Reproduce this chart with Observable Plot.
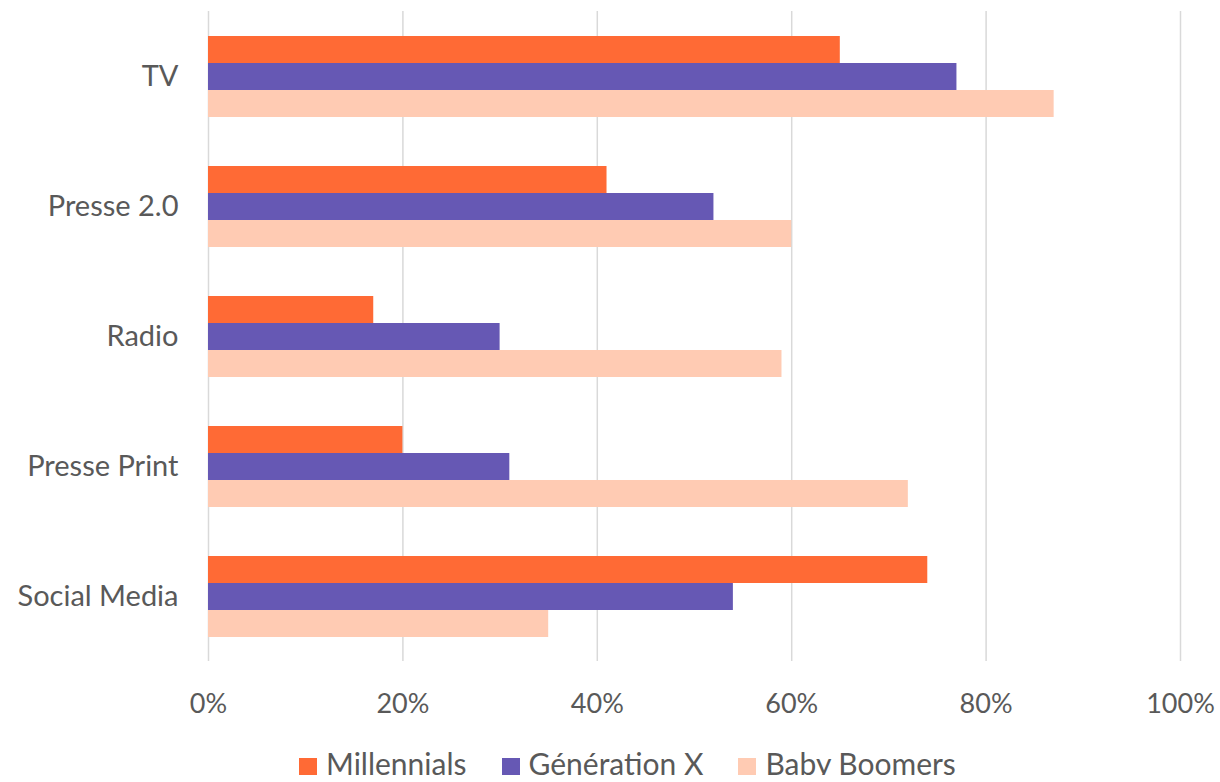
<!DOCTYPE html>
<html>
<head>
<meta charset="utf-8">
<script src="https://cdn.jsdelivr.net/npm/d3@7"></script>
<script src="https://cdn.jsdelivr.net/npm/@observablehq/plot@0.6"></script>
<style>
  html, body { margin: 0; padding: 0; background: #fff; }
  #chart svg { display: block; }
  #chart g[aria-label="fy-axis tick label"] { font-size: 29px; }
  .legend { display: flex; align-items: center; height: 24px; margin-top: 16px; padding-left: 299px;
            font-family: Lato, sans-serif; font-size: 30px; color: #595959; }
  .legend .sw { width: 18px; height: 18px; margin-right: 9px; flex: none; position: relative; top: 4px; }
  .legend .item { display: flex; align-items: center; margin-right: 35px; white-space: nowrap; }
</style>
</head>
<body>
<div id="chart"></div>
<div class="legend" id="legend"></div>
<script>
const categories = ["TV", "Presse 2.0", "Radio", "Presse Print", "Social Media"];
const series = ["Millennials", "Génération X", "Baby Boomers"];
const millennials = [65, 41, 17, 20, 74];
const generationX = [77, 52, 30, 31, 54];
const babyBoomers = [87, 60, 59, 72, 35];
const colors = ["#FF6A35", "#6658B4", "#FFCBB3"];
const xTicks = [0, 0.2, 0.4, 0.6, 0.8, 1.0];

const seriesValues = [millennials, generationX, babyBoomers];
const data = [];
categories.forEach((c, i) => {
  series.forEach((s, j) => {
    data.push({category: c, series: s, value: seriesValues[j][i] / 100});
  });
});

const chart = Plot.plot({
  width: 1220,
  height: 735,
  marginLeft: 208,
  marginRight: 40,
  marginTop: 9,
  marginBottom: 72,
  style: {fontFamily: "Lato, sans-serif", fontSize: "27px", color: "#595959", background: "#fff"},
  x: {domain: [0, 1], ticks: xTicks, tickFormat: d3.format(".0%"), tickSize: 0, tickPadding: 32, label: null},
  fy: {domain: categories, paddingInner: 0, paddingOuter: 0, axis: "left", tickSize: 0, tickPadding: 30, label: null},
  y: {domain: series, paddingInner: 0, paddingOuter: 0.885, axis: null},
  color: {domain: series, range: colors},
  marks: [
    Plot.ruleX(xTicks, {stroke: "#d9d9d9", strokeWidth: 1.5}),
    Plot.barX(data, {fy: "category", y: "series", x: "value", fill: "series"})
  ]
});
document.getElementById("chart").appendChild(chart);

const legend = document.getElementById("legend");
series.forEach((s, j) => {
  const item = document.createElement("div");
  item.className = "item";
  const sw = document.createElement("span");
  sw.className = "sw";
  sw.style.background = colors[j];
  const t = document.createElement("span");
  t.textContent = s;
  item.appendChild(sw);
  item.appendChild(t);
  legend.appendChild(item);
});
</script>
</body>
</html>
